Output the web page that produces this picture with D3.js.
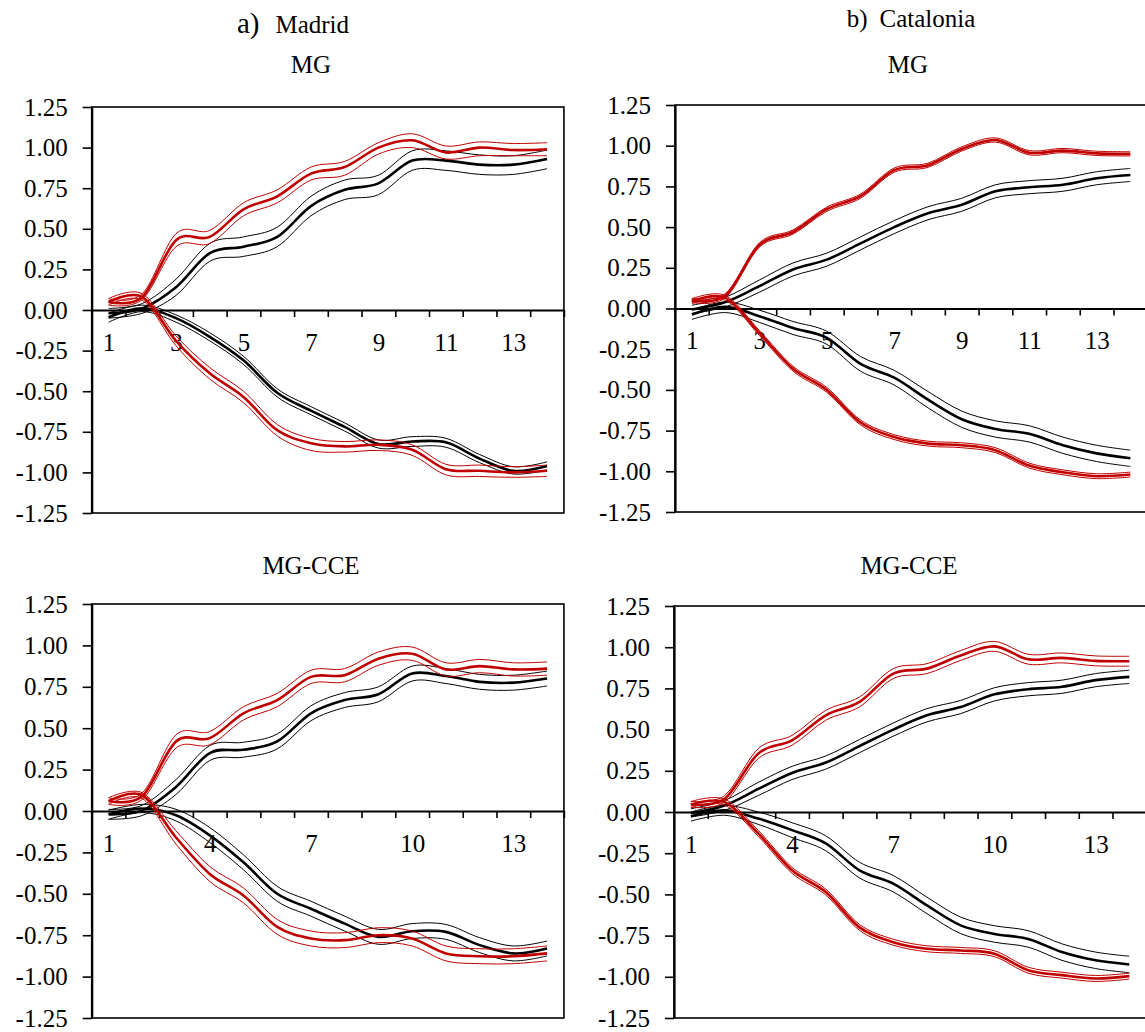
<!DOCTYPE html>
<meta charset="utf-8">
<html>
  <head>
    <title>impulse responses MG / MG-CCE</title>
    <style>
      body { margin: 0; background: #fff; }
      svg text { font-family: "Liberation Serif", "Times New Roman", serif; fill: #000; }
      .band { fill: none; stroke-width: 1px; }
      .mid { fill: none; stroke-width: 2.6px; }
      .frame { fill: none; stroke: #000; stroke-width: 1.6px; }
    </style>
  </head>
  <body>
    <script src="https://d3js.org/d3.v7.min.js"></script>
    <script>

      // horizon steps and tick labels
      var steps = [1, 2, 3, 4, 5, 6, 7, 8, 9, 10, 11, 12, 13, 14];
      var topLabels = [1, 3, 5, 7, 9, 11, 13];
      var bottomLabels = [1, 4, 7, 10, 13];
      var yTicks = [1.25, 1, 0.75, 0.5, 0.25, 0, -0.25, -0.5, -0.75, -1, -1.25];

      // a) Madrid, MG
      var madMG_redUp     = [0.05, 0.08, 0.43, 0.45, 0.62, 0.70, 0.84, 0.88, 1.00, 1.045, 0.97, 1.00, 0.985, 0.99];
      var madMG_redUpHi   = [0.07, 0.10, 0.47, 0.49, 0.66, 0.74, 0.88, 0.915, 1.03, 1.085, 1.01, 1.035, 1.025, 1.03];
      var madMG_redUpLo   = [0.03, 0.065, 0.39, 0.41, 0.58, 0.66, 0.80, 0.83, 0.96, 1.00, 0.93, 0.95, 0.95, 0.95];
      var madMG_blkUp     = [-0.02, 0.01, 0.14, 0.35, 0.39, 0.45, 0.64, 0.74, 0.78, 0.92, 0.92, 0.895, 0.895, 0.93];
      var madMG_blkUpHi   = [0.01, 0.04, 0.19, 0.41, 0.45, 0.51, 0.70, 0.80, 0.83, 0.98, 0.98, 0.955, 0.95, 0.985];
      var madMG_blkUpLo   = [-0.05, -0.02, 0.09, 0.30, 0.33, 0.39, 0.58, 0.68, 0.71, 0.86, 0.86, 0.835, 0.835, 0.87];
      var madMG_redDn     = [0.05, 0.08, -0.19, -0.39, -0.535, -0.74, -0.82, -0.84, -0.83, -0.86, -0.98, -0.99, -1.0, -0.99];
      var madMG_redDnHi   = [0.07, 0.10, -0.16, -0.355, -0.50, -0.705, -0.79, -0.81, -0.80, -0.83, -0.95, -0.955, -0.965, -0.955];
      var madMG_redDnLo   = [0.03, 0.06, -0.22, -0.425, -0.57, -0.775, -0.865, -0.875, -0.865, -0.895, -1.015, -1.025, -1.03, -1.025];
      var madMG_blkDn     = [-0.045, 0.01, -0.05, -0.165, -0.31, -0.51, -0.62, -0.72, -0.825, -0.81, -0.815, -0.915, -0.99, -0.96];
      var madMG_blkDnHi   = [-0.02, 0.03, -0.03, -0.14, -0.285, -0.485, -0.595, -0.695, -0.80, -0.78, -0.79, -0.89, -0.965, -0.935];
      var madMG_blkDnLo   = [-0.075, -0.01, -0.075, -0.19, -0.335, -0.535, -0.645, -0.745, -0.85, -0.84, -0.845, -0.94, -1.01, -0.985];

      // b) Catalonia, MG
      var catMG_redUp     = [0.05, 0.08, 0.39, 0.47, 0.61, 0.69, 0.85, 0.88, 0.98, 1.035, 0.957, 0.97, 0.953, 0.95];
      var catMG_redUpHi   = [0.063, 0.093, 0.403, 0.483, 0.623, 0.703, 0.863, 0.893, 0.993, 1.048, 0.97, 0.983, 0.966, 0.963];
      var catMG_redUpLo   = [0.037, 0.067, 0.377, 0.457, 0.597, 0.677, 0.837, 0.867, 0.967, 1.022, 0.944, 0.957, 0.94, 0.937];
      var catMG_blkUp     = [-0.006, 0.04, 0.137, 0.24, 0.30, 0.40, 0.50, 0.585, 0.637, 0.72, 0.745, 0.76, 0.80, 0.82];
      var catMG_blkUpHi   = [0.02, 0.07, 0.175, 0.28, 0.34, 0.44, 0.54, 0.625, 0.677, 0.76, 0.785, 0.80, 0.84, 0.86];
      var catMG_blkUpLo   = [-0.03, 0.01, 0.10, 0.20, 0.26, 0.36, 0.46, 0.545, 0.597, 0.68, 0.705, 0.72, 0.76, 0.78];
      var catMG_redDn     = [0.045, 0.065, -0.15, -0.37, -0.50, -0.70, -0.79, -0.83, -0.84, -0.87, -0.965, -1.006, -1.03, -1.02];
      var catMG_redDnHi   = [0.06, 0.08, -0.135, -0.355, -0.485, -0.685, -0.775, -0.815, -0.825, -0.855, -0.95, -0.991, -1.015, -1.005];
      var catMG_redDnLo   = [0.03, 0.05, -0.165, -0.385, -0.515, -0.715, -0.805, -0.845, -0.855, -0.885, -0.98, -1.021, -1.045, -1.035];
      var catMG_blkDn     = [-0.037, 0.01, -0.047, -0.12, -0.18, -0.34, -0.425, -0.56, -0.68, -0.74, -0.77, -0.84, -0.89, -0.92];
      var catMG_blkDnHi   = [-0.01, 0.04, -0.01, -0.08, -0.14, -0.295, -0.38, -0.51, -0.63, -0.69, -0.72, -0.79, -0.84, -0.87];
      var catMG_blkDnLo   = [-0.067, -0.025, -0.085, -0.16, -0.22, -0.385, -0.47, -0.61, -0.73, -0.79, -0.82, -0.89, -0.94, -0.97];

      // a) Madrid, MG-CCE
      var madCCE_redUp    = [0.06, 0.09, 0.42, 0.44, 0.59, 0.67, 0.81, 0.82, 0.92, 0.95, 0.855, 0.875, 0.855, 0.86];
      var madCCE_redUpHi  = [0.08, 0.11, 0.46, 0.48, 0.63, 0.71, 0.85, 0.86, 0.96, 0.99, 0.895, 0.915, 0.895, 0.90];
      var madCCE_redUpLo  = [0.04, 0.07, 0.38, 0.40, 0.55, 0.63, 0.77, 0.78, 0.88, 0.91, 0.815, 0.835, 0.815, 0.82];
      var madCCE_blkUp    = [-0.02, 0.004, 0.145, 0.35, 0.37, 0.42, 0.59, 0.67, 0.705, 0.83, 0.815, 0.78, 0.775, 0.80];
      var madCCE_blkUpHi  = [0.01, 0.035, 0.19, 0.395, 0.415, 0.465, 0.635, 0.715, 0.75, 0.875, 0.86, 0.825, 0.82, 0.845];
      var madCCE_blkUpLo  = [-0.05, -0.027, 0.10, 0.305, 0.325, 0.375, 0.545, 0.625, 0.66, 0.785, 0.77, 0.735, 0.73, 0.755];
      var madCCE_redDn    = [0.06, 0.095, -0.16, -0.38, -0.51, -0.70, -0.77, -0.78, -0.75, -0.77, -0.86, -0.877, -0.877, -0.86];
      var madCCE_redDnHi  = [0.08, 0.11, -0.12, -0.335, -0.465, -0.655, -0.725, -0.735, -0.705, -0.725, -0.815, -0.832, -0.832, -0.815];
      var madCCE_redDnLo  = [0.04, 0.075, -0.20, -0.425, -0.555, -0.745, -0.815, -0.825, -0.795, -0.815, -0.905, -0.922, -0.922, -0.905];
      var madCCE_blkDn    = [-0.02, 0.015, -0.026, -0.147, -0.31, -0.50, -0.59, -0.68, -0.76, -0.726, -0.73, -0.81, -0.86, -0.83];
      var madCCE_blkDnHi  = [0.005, 0.04, 0.01, -0.10, -0.265, -0.455, -0.545, -0.635, -0.715, -0.68, -0.685, -0.765, -0.815, -0.785];
      var madCCE_blkDnLo  = [-0.05, -0.01, -0.06, -0.19, -0.355, -0.545, -0.635, -0.725, -0.805, -0.77, -0.775, -0.855, -0.905, -0.875];

      // b) Catalonia, MG-CCE
      var catCCE_redUp    = [0.047, 0.08, 0.355, 0.435, 0.587, 0.668, 0.84, 0.87, 0.95, 1.005, 0.927, 0.935, 0.917, 0.915];
      var catCCE_redUpHi  = [0.065, 0.10, 0.385, 0.465, 0.617, 0.698, 0.87, 0.90, 0.98, 1.035, 0.957, 0.965, 0.947, 0.945];
      var catCCE_redUpLo  = [0.03, 0.06, 0.325, 0.405, 0.557, 0.638, 0.81, 0.84, 0.92, 0.975, 0.897, 0.905, 0.887, 0.885];
      var catCCE_blkUp    = [-0.006, 0.04, 0.14, 0.237, 0.30, 0.40, 0.50, 0.587, 0.637, 0.714, 0.745, 0.76, 0.80, 0.82];
      var catCCE_blkUpHi  = [0.02, 0.07, 0.18, 0.277, 0.34, 0.44, 0.54, 0.627, 0.677, 0.754, 0.785, 0.80, 0.84, 0.86];
      var catCCE_blkUpLo  = [-0.03, 0.01, 0.10, 0.197, 0.26, 0.36, 0.46, 0.547, 0.597, 0.674, 0.705, 0.72, 0.76, 0.78];
      var catCCE_redDn    = [0.045, 0.06, -0.13, -0.354, -0.486, -0.70, -0.79, -0.83, -0.84, -0.86, -0.96, -0.99, -1.01, -0.996];
      var catCCE_redDnHi  = [0.063, 0.078, -0.112, -0.336, -0.468, -0.682, -0.772, -0.812, -0.822, -0.842, -0.942, -0.972, -0.992, -0.978];
      var catCCE_redDnLo  = [0.027, 0.042, -0.148, -0.372, -0.504, -0.718, -0.808, -0.848, -0.858, -0.878, -0.978, -1.008, -1.028, -1.014];
      var catCCE_blkDn    = [-0.026, 0.01, -0.04, -0.11, -0.19, -0.354, -0.435, -0.567, -0.688, -0.74, -0.77, -0.85, -0.90, -0.925];
      var catCCE_blkDnHi  = [0.0, 0.04, 0.0, -0.065, -0.145, -0.305, -0.385, -0.517, -0.638, -0.69, -0.72, -0.80, -0.85, -0.875];
      var catCCE_blkDnLo  = [-0.055, -0.02, -0.075, -0.155, -0.235, -0.40, -0.485, -0.617, -0.738, -0.79, -0.82, -0.90, -0.95, -0.975];

      var red = "#c00000", black = "#000";

      var svg = d3.select("body").append("svg")
          .attr("width", 1145)
          .attr("height", 1032);

      // column titles
      var tA = svg.append("text").attr("x", 293).attr("y", 33).attr("text-anchor", "middle");
      tA.append("tspan").style("font-size", "29px").text("a)");
      tA.append("tspan").style("font-size", "25px").attr("dx", 16).text("Madrid");

      var tB = svg.append("text").attr("x", 911).attr("y", 27).attr("text-anchor", "middle");
      tB.append("tspan").style("font-size", "25px").text("b)");
      tB.append("tspan").style("font-size", "25px").attr("dx", 12).text("Catalonia");

      var panels = [
        {title: "MG", tx: 311, ty: 73, left: 91.7, top: 107, bottom: 513, labels: topLabels,
          series: [[madMG_blkUp, madMG_blkUpLo, madMG_blkUpHi, black], [madMG_blkDn, madMG_blkDnLo, madMG_blkDnHi, black],
                   [madMG_redUp, madMG_redUpLo, madMG_redUpHi, red], [madMG_redDn, madMG_redDnLo, madMG_redDnHi, red]]},
        {title: "MG", tx: 908, ty: 73, left: 675, top: 105, bottom: 512, labels: topLabels,
          series: [[catMG_blkUp, catMG_blkUpLo, catMG_blkUpHi, black], [catMG_blkDn, catMG_blkDnLo, catMG_blkDnHi, black],
                   [catMG_redUp, catMG_redUpLo, catMG_redUpHi, red], [catMG_redDn, catMG_redDnLo, catMG_redDnHi, red]]},
        {title: "MG-CCE", tx: 311, ty: 574, left: 91.7, top: 604, bottom: 1018, labels: bottomLabels,
          series: [[madCCE_blkUp, madCCE_blkUpLo, madCCE_blkUpHi, black], [madCCE_blkDn, madCCE_blkDnLo, madCCE_blkDnHi, black],
                   [madCCE_redUp, madCCE_redUpLo, madCCE_redUpHi, red], [madCCE_redDn, madCCE_redDnLo, madCCE_redDnHi, red]]},
        {title: "MG-CCE", tx: 909, ty: 574, left: 674, top: 606, bottom: 1018, labels: bottomLabels,
          series: [[catCCE_blkUp, catCCE_blkUpLo, catCCE_blkUpHi, black], [catCCE_blkDn, catCCE_blkDnLo, catCCE_blkDnHi, black],
                   [catCCE_redUp, catCCE_redUpLo, catCCE_redUpHi, red], [catCCE_redDn, catCCE_redDnLo, catCCE_redDnHi, red]]}
      ];

      panels.forEach(function(p) {
        var width = 14 * 33.73;
        var x = d3.scaleLinear().domain([0.5, 14.5]).range([p.left, p.left + width]);
        var y = d3.scaleLinear().domain([-1.25, 1.25]).range([p.bottom, p.top]);

        svg.append("text")
            .attr("x", p.tx).attr("y", p.ty)
            .attr("text-anchor", "middle")
            .style("font-size", "25px")
            .text(p.title);

        svg.append("rect")
            .attr("class", "frame")
            .attr("x", p.left).attr("y", p.top)
            .attr("width", width).attr("height", p.bottom - p.top);

        // y axis
        var gy = svg.append("g")
            .attr("transform", "translate(" + p.left + ",0)")
            .call(d3.axisLeft(y).tickValues(yTicks).tickSize(9).tickSizeOuter(0).tickPadding(15)
              .tickFormat(function(d) { return d.toFixed(2); }));
        gy.selectAll("text").style("font-size", "25px").style("font-family", "Liberation Serif, serif");
        gy.selectAll("line").attr("stroke-width", 1.6);
        gy.select(".domain").attr("stroke-width", 2.2);

        // x axis through zero: tick marks between categories
        var bounds = d3.range(1.5, 15, 1);
        var gx = svg.append("g")
            .attr("transform", "translate(0," + y(0) + ")")
            .call(d3.axisBottom(x).tickValues(bounds).tickSize(7).tickSizeOuter(0).tickFormat(""));
        gx.selectAll("line").attr("stroke-width", 1.6);
        gx.select(".domain").attr("stroke-width", 1.8);

        var gl = svg.append("g")
            .attr("transform", "translate(0," + y(0) + ")")
            .call(d3.axisBottom(x).tickValues(p.labels).tickSize(0).tickPadding(23));
        gl.select(".domain").remove();
        gl.selectAll("text").style("font-size", "25px").style("font-family", "Liberation Serif, serif");

        var line = d3.line()
            .x(function(d, i) { return x(steps[i]); })
            .y(function(d) { return y(d); })
            .curve(d3.curveCatmullRom.alpha(0));

        p.series.forEach(function(s) {
          svg.append("path").datum(s[1]).attr("class", "band").attr("stroke", s[3]).attr("d", line);
          svg.append("path").datum(s[2]).attr("class", "band").attr("stroke", s[3]).attr("d", line);
          svg.append("path").datum(s[0]).attr("class", "mid").attr("stroke", s[3]).attr("d", line);
        });
      });

    </script>
  </body>
</html>
